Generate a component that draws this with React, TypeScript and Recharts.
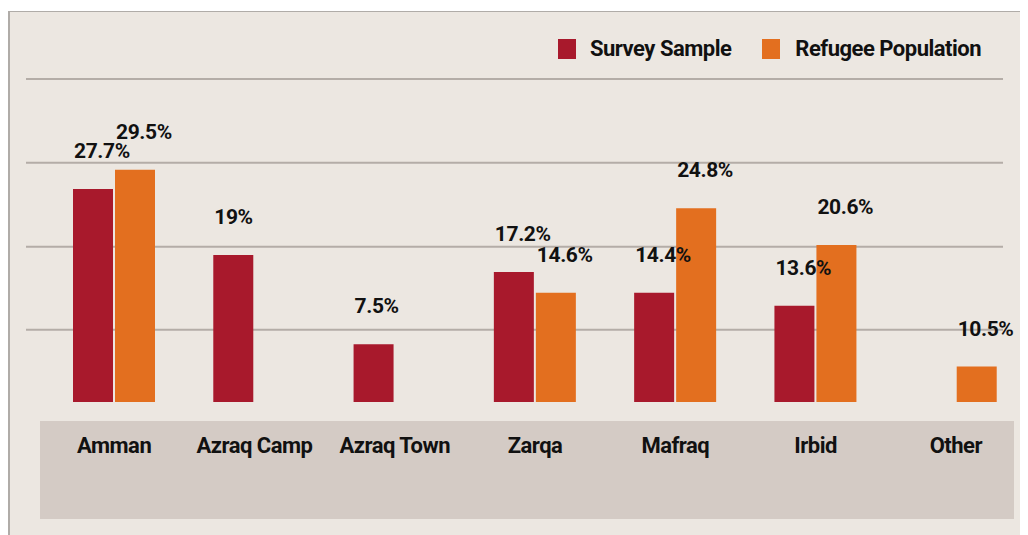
import React from "react";
import { BarChart, Bar, XAxis, YAxis, CartesianGrid, Legend, LabelList } from "recharts";

const categories = ["Amman", "Azraq Camp", "Azraq Town", "Zarqa", "Mafraq", "Irbid", "Other"];
const surveyValues: (number | null)[] = [27.7, 19.1, 7.5, 16.9, 14.2, 12.5, null];
const refugeeValues: (number | null)[] = [30.2, null, null, 14.2, 25.2, 20.4, 4.6];
const surveyLabels: (string | null)[] = ["27.7%", "19%", "7.5%", "17.2%", "14.4%", "13.6%", null];
const refugeeLabels: (string | null)[] = ["29.5%", null, null, "14.6%", "24.8%", "20.6%", "10.5%"];
const gridTicks = [9.4, 20.2, 31.1, 42];
const seriesNames = ["Survey Sample", "Refugee Population"];

const RED = "#a8192c";
const ORANGE = "#e36f1f";
const FONT = "Roboto, 'Noto Sans', sans-serif";

const data = categories.map((c, i) => ({
  name: c,
  survey: surveyValues[i],
  refugee: refugeeValues[i],
  surveyLabel: surveyLabels[i],
  refugeeLabel: refugeeLabels[i],
}));

const renderValueLabel = (props: any) => {
  const { x, y, value } = props;
  if (value === null || value === undefined) return null;
  return (
    <text x={Number(x) + 1} y={Number(y) - 31} fill="#111" fontSize={21} fontWeight={700} fontFamily={FONT} letterSpacing={-0.4}>
      {value}
    </text>
  );
};

const renderGridLine = (props: any) => {
  const { x1, x2, y1, y2, key, y, height } = props;
  if (typeof y === "number" && typeof height === "number" && Math.abs(y1 - (y + height)) < 1.5) {
    return <g key={key} />;
  }
  return <line key={key} x1={x1 - 18} x2={x2 - 23} y1={y1} y2={y2} stroke="#b4ada7" strokeWidth={2} />;
};

const renderLegend = () => (
  <div style={{ display: "flex", alignItems: "center", fontFamily: FONT, fontWeight: 700, fontSize: 22, letterSpacing: -0.5, color: "#111", whiteSpace: "nowrap" }}>
    <span style={{ display: "inline-block", width: 18, height: 20, background: RED, marginRight: 14 }} />
    <span style={{ marginRight: 31 }}>{seriesNames[0]}</span>
    <span style={{ display: "inline-block", width: 18, height: 20, background: ORANGE, marginRight: 15 }} />
    <span>{seriesNames[1]}</span>
  </div>
);

export default function App() {
  return (
    <div
      style={{
        position: "relative",
        marginTop: 3,
        width: 1019,
        height: 523,
        background: "#ece7e1",
        borderLeft: "2px solid #b0aca8",
        borderTop: "1px solid #b0aca8",
        fontFamily: FONT,
      }}
    >
      <div style={{ position: "absolute", left: 30, top: 409, width: 974, height: 98, background: "#d4cbc5" }} />
      <div style={{ position: "absolute", left: -1, top: 0 }}>
        <BarChart
          width={1019}
          height={523}
          data={data}
          margin={{ top: 67, right: 2, bottom: 13, left: 35 }}
          barGap={2}
          barSize={40}
        >
          <CartesianGrid vertical={false} horizontal={renderGridLine} />
          <YAxis hide domain={[0, 42]} ticks={gridTicks} type="number" />
          <XAxis
            dataKey="name"
            axisLine={false}
            tickLine={false}
            tickSize={0}
            tickMargin={35}
            height={120}
            interval={0}
            tick={{ fill: "#111", fontSize: 22, fontWeight: 700, fontFamily: FONT, letterSpacing: -0.5 }}
          />
          <Legend
            layout="horizontal"
            verticalAlign="middle"
            align="center"
            content={renderLegend}
            wrapperStyle={{ top: 24, left: 549, width: "auto", height: "auto" }}
          />
          <Bar dataKey="survey" name={seriesNames[0]} fill={RED} isAnimationActive={false}>
            <LabelList dataKey="surveyLabel" content={renderValueLabel} />
          </Bar>
          <Bar dataKey="refugee" name={seriesNames[1]} fill={ORANGE} isAnimationActive={false}>
            <LabelList dataKey="refugeeLabel" content={renderValueLabel} />
          </Bar>
        </BarChart>
      </div>
    </div>
  );
}
